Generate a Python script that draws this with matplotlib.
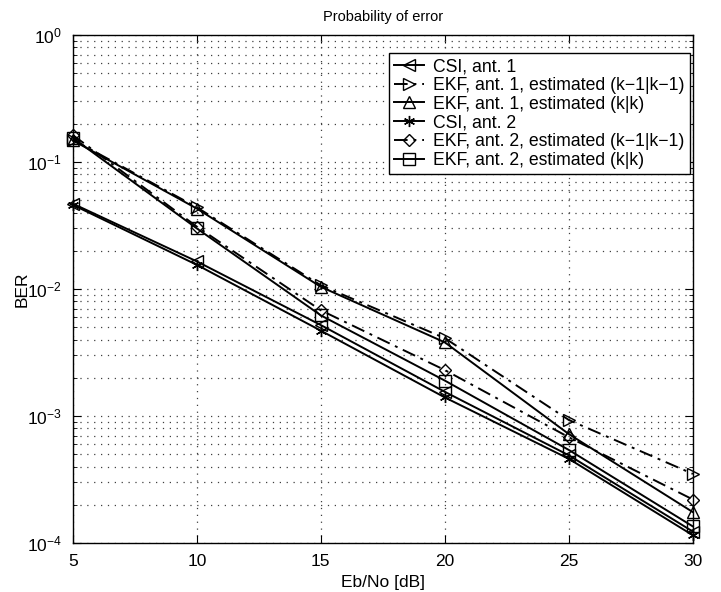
import matplotlib
matplotlib.use('agg')
import matplotlib.pyplot as plt
from matplotlib.ticker import LogLocator, NullFormatter

plt.rcParams['font.family'] = ['Liberation Sans', 'DejaVu Sans']

ebno = [5, 10, 15, 20, 25, 30]

csi_ant1 = [0.047, 0.0165, 0.0052, 0.00155, 0.00049, 0.000123]
ekf1_pred = [0.150, 0.044, 0.0107, 0.0041, 0.00093, 0.00035]
ekf1_filt = [0.148, 0.043, 0.0104, 0.0038, 0.00072, 0.000175]
csi_ant2 = [0.046, 0.0155, 0.0047, 0.0014, 0.00046, 0.000115]
ekf2_pred = [0.163, 0.031, 0.0068, 0.0023, 0.00068, 0.00022]
ekf2_filt = [0.155, 0.030, 0.0062, 0.0019, 0.00054, 0.000135]

labels = [
    "CSI, ant. 1",
    "EKF, ant. 1, estimated (k\u22121|k\u22121)",
    "EKF, ant. 1, estimated (k|k)",
    "CSI, ant. 2",
    "EKF, ant. 2, estimated (k\u22121|k\u22121)",
    "EKF, ant. 2, estimated (k|k)",
]

fig = plt.figure(figsize=(7.21, 5.92), dpi=100)
ax = fig.add_axes([0.101, 0.0828, 0.860, 0.858])

dashdot = (0, (7, 3, 1.5, 3))
series = [
    (csi_ant1, '<', '-'),
    (ekf1_pred, '>', dashdot),
    (ekf1_filt, '^', '-'),
    (csi_ant2, (6, 2, 0), '-'),
    (ekf2_pred, 'D', dashdot),
    (ekf2_filt, 's', '-'),
]
for (vals, mk, ls), lab in zip(series, labels):
    ms = 6 if mk == 'D' else 8
    ax.plot(ebno, vals, color='black', linestyle=ls, linewidth=1.4,
            marker=mk, markersize=ms, markerfacecolor='none',
            markeredgecolor='black', markeredgewidth=1.0, label=lab,
            clip_on=False)

ax.set_yscale('log')
ax.set_xlim(5, 30)
ax.set_ylim(1e-4, 1)
ax.set_xticks(ebno)
ax.yaxis.set_major_locator(LogLocator(base=10, numticks=10))
ax.yaxis.set_minor_locator(LogLocator(base=10, subs=range(2, 10), numticks=10))
ax.yaxis.set_minor_formatter(NullFormatter())

grid_ls = (0, (1, 4.5))
ax.grid(True, which='major', axis='both', color='0.25', linestyle=grid_ls, linewidth=0.9)
ax.grid(True, which='minor', axis='y', color='0.25', linestyle=grid_ls, linewidth=0.9)

ax.tick_params(which='both', direction='in', top=True, right=True, labelsize=12.5)
ax.tick_params(which='major', length=6, pad=8)
ax.tick_params(which='minor', length=3)
for sp in ax.spines.values():
    sp.set_linewidth(1.0)

ax.set_title("Probability of error", fontsize=10.5, pad=10)
ax.set_xlabel("Eb/No [dB]", fontsize=12.5, labelpad=4)
ax.set_ylabel("BER", fontsize=12.5, labelpad=-2)

leg = ax.legend(loc='upper right', bbox_to_anchor=(0.995, 0.965), fontsize=12.7,
                fancybox=False, framealpha=1, edgecolor='black',
                handlelength=1.7, borderpad=0.3, labelspacing=0.1,
                handletextpad=0.5, borderaxespad=0)
leg.get_frame().set_linewidth(1.0)

fig.savefig('out.png', dpi=100)
